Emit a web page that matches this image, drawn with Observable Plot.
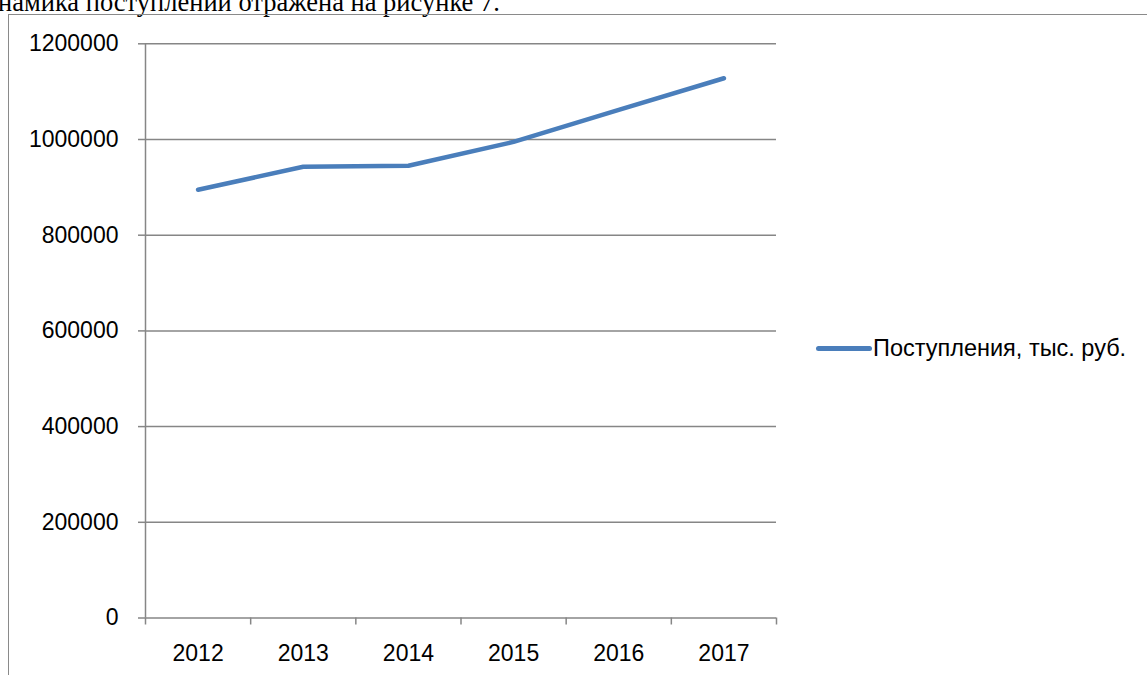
<!DOCTYPE html>
<html>
<head>
<meta charset="utf-8">
<script src="https://cdn.jsdelivr.net/npm/d3@7"></script>
<script src="https://cdn.jsdelivr.net/npm/@observablehq/plot@0.6"></script>
<style>
  html, body { margin: 0; padding: 0; background: #fff; }
  body { width: 1147px; height: 675px; position: relative; overflow: hidden; font-family: "Liberation Sans", Arial, sans-serif; }
  #heading { position: absolute; left: -2px; top: -11px; font-family: "Liberation Serif", "Times New Roman", serif; font-size: 26.5px; line-height: 26.5px; white-space: nowrap; color: #000; }
  #frame { position: absolute; left: 8px; top: 14px; width: 1150px; height: 700px; border-left: 1.5px solid #8a8a8a; border-top: 1.5px solid #8a8a8a; }
  #chart { position: absolute; left: 0; top: 0; }
  #legend { position: absolute; left: 816px; top: 335px; display: flex; align-items: center; font-size: 23.5px; color: #000; white-space: nowrap; }
  #legend .swatch { width: 56px; height: 4.5px; border-radius: 3px; background: #4a7ebb; margin-right: 1px; }
</style>
</head>
<body>
<div id="heading">намика поступлений отражена на рисунке 7.</div>
<div id="frame"></div>
<div id="chart"></div>
<div id="legend"><span class="swatch"></span><span id="legend-label"></span></div>
<script>
const years = [2012, 2013, 2014, 2015, 2016, 2017];
const revenue = [895000, 943000, 945000, 995000, 1062000, 1128000];
const yTicks = [0, 200000, 400000, 600000, 800000, 1000000, 1200000];
const seriesName = "Поступления, тыс. руб.";

const data = years.map((year, i) => ({year, value: revenue[i]}));
const boundaries = [years[0] - 0.5, ...years.map(y => y + 0.5)];
const gridColor = "#868686";
const lineColor = "#4a7ebb";

document.getElementById("legend-label").textContent = seriesName;

const chart = Plot.plot({
  width: 1147,
  height: 675,
  marginLeft: 145,
  marginRight: 371,
  marginTop: 43.3,
  marginBottom: 57.5,
  style: {fontFamily: "'Liberation Sans', Arial, sans-serif", fontSize: "23px", background: "transparent", color: "#000"},
  x: {type: "linear", domain: [years[0] - 0.5, years[years.length - 1] + 0.5], axis: null},
  y: {domain: [0, 1200000], axis: null},
  marks: [
    Plot.gridY(yTicks, {stroke: gridColor, strokeOpacity: 1, strokeWidth: 1.5}),
    Plot.ruleX([boundaries[0]], {stroke: gridColor, strokeWidth: 1.5}),
    Plot.axisY({ticks: yTicks, tickSize: 7, tickPadding: 20, tickFormat: d => String(d), stroke: gridColor, strokeWidth: 1.5, fill: "#000", fontSize: 23, label: null}),
    Plot.axisX({ticks: boundaries, tickSize: 7, tickFormat: () => "", stroke: gridColor, strokeWidth: 1.5, label: null}),
    Plot.axisX({ticks: years, tickSize: 0, tickPadding: 27, tickFormat: d => String(d), fill: "#000", fontSize: 23, label: null}),
    Plot.line(data, {x: "year", y: "value", stroke: lineColor, strokeWidth: 4.5, strokeLinecap: "round", strokeLinejoin: "round"})
  ]
});
document.getElementById("chart").appendChild(chart);
</script>
</body>
</html>
